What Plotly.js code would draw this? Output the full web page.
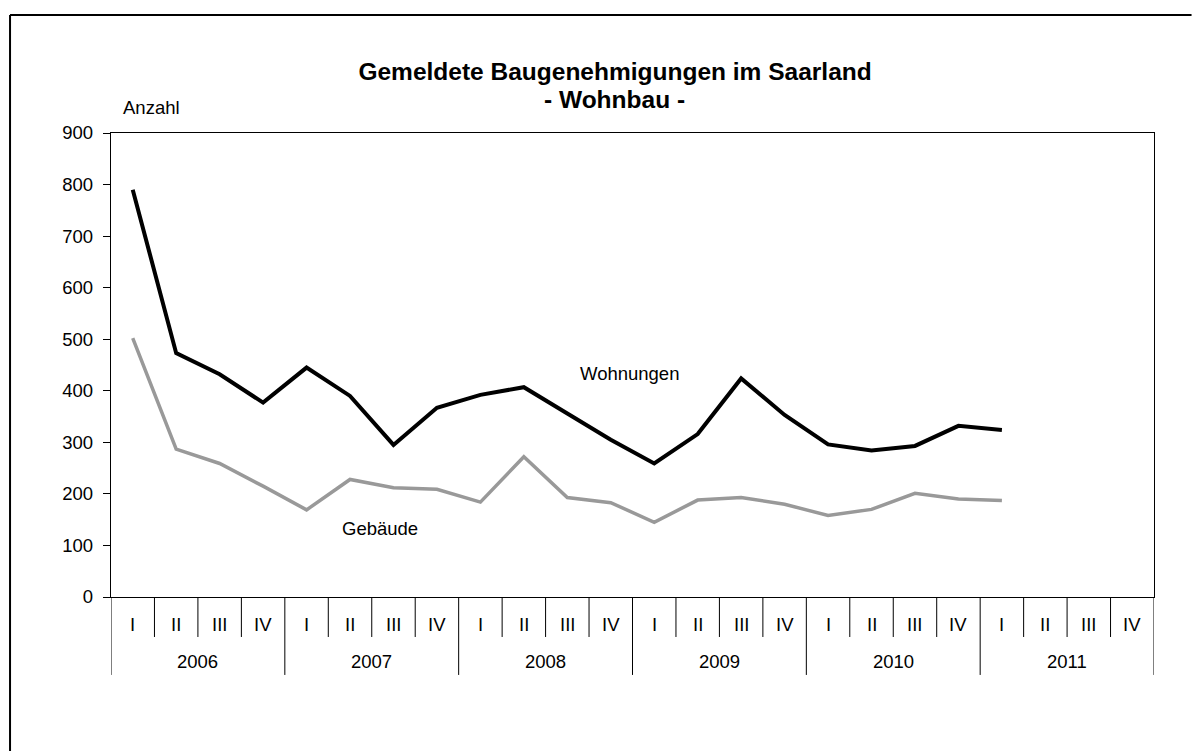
<!DOCTYPE html>
<html>
<head>
<meta charset="utf-8">
<script src="https://cdn.plot.ly/plotly-3.0.1.min.js"></script>
<style>html,body{margin:0;padding:0;background:#fff;overflow:hidden;}#chart{width:1192px;height:751px;}</style>
</head>
<body>
<div id="chart"></div>
<script>
const years = ['2006', '2007', '2008', '2009', '2010', '2011'];
const quarters = ['I', 'II', 'III', 'IV'];
const wohnungen = [790, 473, 432, 377, 445, 390, 295, 367, 392, 407, 356, 305, 259, 316, 424, 353, 296, 284, 293, 332, 324];
const gebaeude = [502, 287, 259, 215, 169, 228, 212, 209, 184, 272, 193, 183, 145, 188, 193, 180, 158, 170, 201, 190, 187];
const yTicks = [0, 100, 200, 300, 400, 500, 600, 700, 800, 900];
const titleLine1 = 'Gemeldete Baugenehmigungen im Saarland';
const titleLine2 = '- Wohnbau -';

const categories = [];
years.forEach(y => quarters.forEach(q => categories.push(y + ' ' + q)));
const nCat = categories.length;

const FONT = 'Liberation Sans, Arial, Helvetica, sans-serif';
const FS = 18.5;
const TFS = 24.5;

const traces = [
  {x: categories.slice(0, wohnungen.length), y: wohnungen, type: 'scatter', mode: 'lines', name: 'Wohnungen',
   line: {color: '#000000', width: 4}, hoverinfo: 'x+y'},
  {x: categories.slice(0, gebaeude.length), y: gebaeude, type: 'scatter', mode: 'lines', name: 'Gebäude',
   line: {color: '#999999', width: 3.5}, hoverinfo: 'x+y'}
];

const shapes = [];
const annotations = [];
const qTickBottom = -0.0862;
const yTickBottom = -0.168;
for (let b = 0; b <= nCat; b++) {
  const isYear = (b % quarters.length === 0);
  shapes.push({type: 'line', xref: 'x', yref: 'paper', x0: b - 0.5, x1: b - 0.5, y0: 0, y1: isYear ? yTickBottom : qTickBottom,
    line: {color: '#000000', width: 1}});
}
categories.forEach((c, i) => {
  annotations.push({xref: 'x', yref: 'paper', x: i, y: -0.0582, text: quarters[i % quarters.length], showarrow: false,
    xanchor: 'center', yanchor: 'middle', font: {family: FONT, size: FS, color: '#000'}});
});
years.forEach((y, k) => {
  annotations.push({xref: 'x', yref: 'paper', x: k * quarters.length + (quarters.length - 1) / 2, y: -0.140, text: y, showarrow: false,
    xanchor: 'center', yanchor: 'middle', font: {family: FONT, size: FS, color: '#000'}});
});
annotations.push({xref: 'paper', yref: 'paper', x: 0.0384, y: 1.0539, text: 'Anzahl', showarrow: false,
  xanchor: 'center', yanchor: 'middle', font: {family: FONT, size: FS, color: '#000'}});
annotations.push({xref: 'x', yref: 'y', x: 11.44, y: 434, text: 'Wohnungen', showarrow: false,
  xanchor: 'center', yanchor: 'middle', font: {family: FONT, size: FS, color: '#000'}});
annotations.push({xref: 'x', yref: 'y', x: 5.69, y: 132, text: 'Gebäude', showarrow: false,
  xanchor: 'center', yanchor: 'middle', font: {family: FONT, size: FS, color: '#000'}});
annotations.push({xref: 'paper', yref: 'paper', x: 0.4832, y: 1.072, text: '<b>' + titleLine2 + '</b>', showarrow: false,
  xanchor: 'center', yanchor: 'middle', font: {family: FONT, size: TFS, color: '#000'}});

// outer chart frame (left and top edges; right/bottom lie outside the picture)
shapes.push({type: 'line', xref: 'paper', yref: 'paper', x0: -0.0968, x1: -0.0968, y0: 1.2543, y1: -0.4,
  line: {color: '#000000', width: 2}});
shapes.push({type: 'line', xref: 'paper', yref: 'paper', x0: -0.0968, x1: 1.036, y0: 1.2543, y1: 1.2543,
  line: {color: '#000000', width: 2}});

const layout = {
  width: 1192, height: 751,
  margin: {l: 111, r: 38, t: 133, b: 154, pad: 0},
  paper_bgcolor: '#ffffff', plot_bgcolor: '#ffffff',
  font: {family: FONT, size: FS, color: '#000'},
  showlegend: false,
  title: {text: '<b>' + titleLine1 + '</b>',
    font: {family: FONT, size: TFS, color: '#000'}, xref: 'container', x: 0.516, yref: 'container', y: 0.9055, yanchor: 'middle', xanchor: 'center'},
  xaxis: {type: 'category', categoryorder: 'array', categoryarray: categories, range: [-0.5, nCat - 0.5],
    showticklabels: false, ticks: '', showgrid: false, zeroline: false,
    showline: true, linecolor: '#000', linewidth: 1.3, mirror: true, fixedrange: true},
  yaxis: {range: [0, 900], tickvals: yTicks, ticktext: yTicks.map(String), ticks: 'outside', ticklen: 7, tickcolor: '#000', tickwidth: 1,
    ticklabelstandoff: 6,
    showgrid: false, zeroline: false, showline: true, linecolor: '#000', linewidth: 1.3, mirror: true,
    tickfont: {family: FONT, size: FS, color: '#000'}, fixedrange: true},
  shapes: shapes,
  annotations: annotations
};

Plotly.newPlot('chart', traces, layout, {displayModeBar: false, staticPlot: true});
</script>
</body>
</html>
